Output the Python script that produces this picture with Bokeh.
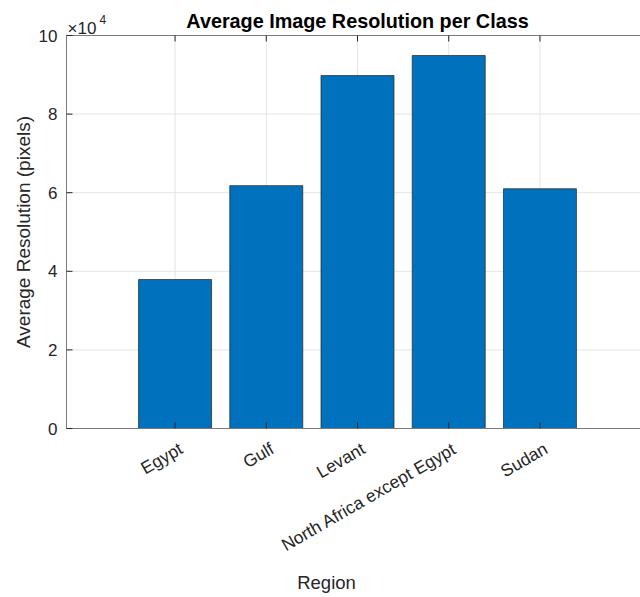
import math
from bokeh.plotting import figure
from bokeh.models import Label, LabelSet, ColumnDataSource, Range1d
from bokeh.core.properties import value
from bokeh.embed import file_html
from bokeh.resources import INLINE

# ---- data ----
categories = ["Egypt", "Gulf", "Levant", "North Africa except Egypt", "Sudan"]
positions = [1, 2, 3, 4, 5]
avg_resolution = [37900, 61800, 89800, 94900, 61000]
y_ticks = [0, 20000, 40000, 60000, 80000, 100000]
y_tick_labels = ["0", "2", "4", "6", "8", "10"]

# axes limits (data) and where the axes box sits on the canvas (px)
XMIN, XMAX = -0.19, 6.19
YMIN, YMAX = 0, 100000
W, H = 640, 597
AX_L, AX_W = 66, 582
AX_T, AX_B = 35, 428

PXU = AX_W / (XMAX - XMIN)
PYU = (AX_B - AX_T) / (YMAX - YMIN)

FONT = "Liberation Sans"
TXT = "#262626"
AXC = "#7a7a7a"
GRID = "#e4e4e4"

p = figure(width=W, height=H, output_backend="svg", toolbar_location=None,
           x_range=Range1d(XMIN - AX_L / PXU, XMIN + (W - AX_L) / PXU),
           y_range=Range1d(YMIN - (H - AX_B) / PYU, YMAX + AX_T / PYU),
           x_axis_location=None, y_axis_location=None,
           min_border=0, min_border_left=0, min_border_right=0,
           min_border_top=0, min_border_bottom=0)
p.title = None
p.outline_line_color = None
p.xgrid.visible = False
p.ygrid.visible = False
p.background_fill_color = "white"
p.border_fill_color = "white"

n = len(positions)
ny = len(y_ticks)

# grid lines (under bars)
p.segment(x0=positions, y0=[YMIN] * n, x1=positions, y1=[YMAX] * n,
          line_color=GRID, line_width=1)
p.segment(x0=[XMIN] * ny, y0=y_ticks, x1=[XMAX] * ny, y1=y_ticks,
          line_color=GRID, line_width=1)

# bars
p.vbar(x=positions, top=avg_resolution, width=0.8, bottom=YMIN,
       fill_color="#0072BD", line_color="#1f1f1f", line_width=0.7)

# axes box
p.segment(x0=[XMIN, XMIN, XMIN, XMAX], y0=[YMIN, YMIN, YMAX, YMIN],
          x1=[XMIN, XMAX, XMAX, XMAX], y1=[YMAX, YMIN, YMAX, YMAX],
          line_color=AXC, line_width=1)

# tick marks (inward)
TL = 6
p.ray(x=positions, y=[YMIN] * n, length=TL, length_units="screen",
      angle=math.pi / 2, line_color=TXT, line_width=1)
p.ray(x=positions, y=[YMAX] * n, length=TL, length_units="screen",
      angle=-math.pi / 2, line_color=TXT, line_width=1)
p.ray(x=[XMIN] * ny, y=y_ticks, length=TL, length_units="screen",
      angle=0, line_color=TXT, line_width=1)

# y tick labels
ysrc = ColumnDataSource(data=dict(x=[XMIN] * ny, y=y_ticks, t=y_tick_labels))
p.add_layout(LabelSet(x="x", y="y", text="t", source=ysrc, x_offset=-9,
                      text_align="right", text_baseline="middle",
                      text_font=value(FONT), text_font_size="17px",
                      text_color=TXT))

# x tick labels (rotated)
xsrc = ColumnDataSource(data=dict(x=positions, y=[YMIN] * n, t=categories))
p.add_layout(LabelSet(x="x", y="y", text="t", source=xsrc, x_offset=1,
                      y_offset=-10, angle=math.pi / 6,
                      text_align="right", text_baseline="top",
                      text_font=value(FONT), text_font_size="17.5px",
                      text_color=TXT))

# axis labels
XC = (XMIN + XMAX) / 2
YC = (YMIN + YMAX) / 2
p.add_layout(Label(x=XMIN, y=YC, x_offset=-43, y_offset=0, angle=math.pi / 2,
                   text="Average Resolution (pixels)", text_align="center",
                   text_baseline="middle", text_font=FONT,
                   text_font_size="19px", text_color=TXT))
p.add_layout(Label(x=XC, y=YMIN, x_offset=-31, y_offset=-154,
                   text="Region", text_align="center",
                   text_baseline="alphabetic", text_font=FONT,
                   text_font_size="18.5px", text_color=TXT))

# title
p.add_layout(Label(x=XC, y=YMAX, y_offset=15,
                   text="Average Image Resolution per Class",
                   text_align="center", text_baseline="alphabetic",
                   text_font=FONT, text_font_size="19.8px",
                   text_font_style="bold", text_color="#000000"))

# exponent
p.add_layout(Label(x=XMIN, y=YMAX, x_offset=1, y_offset=7, text="×10",
                   text_baseline="alphabetic", text_font=FONT,
                   text_font_size="17px", text_color=TXT))
p.add_layout(Label(x=XMIN, y=YMAX, x_offset=33, y_offset=16, text="4",
                   text_baseline="alphabetic", text_font=FONT,
                   text_font_size="12px", text_color=TXT))

open("out.html", "w").write(file_html(p, INLINE))
